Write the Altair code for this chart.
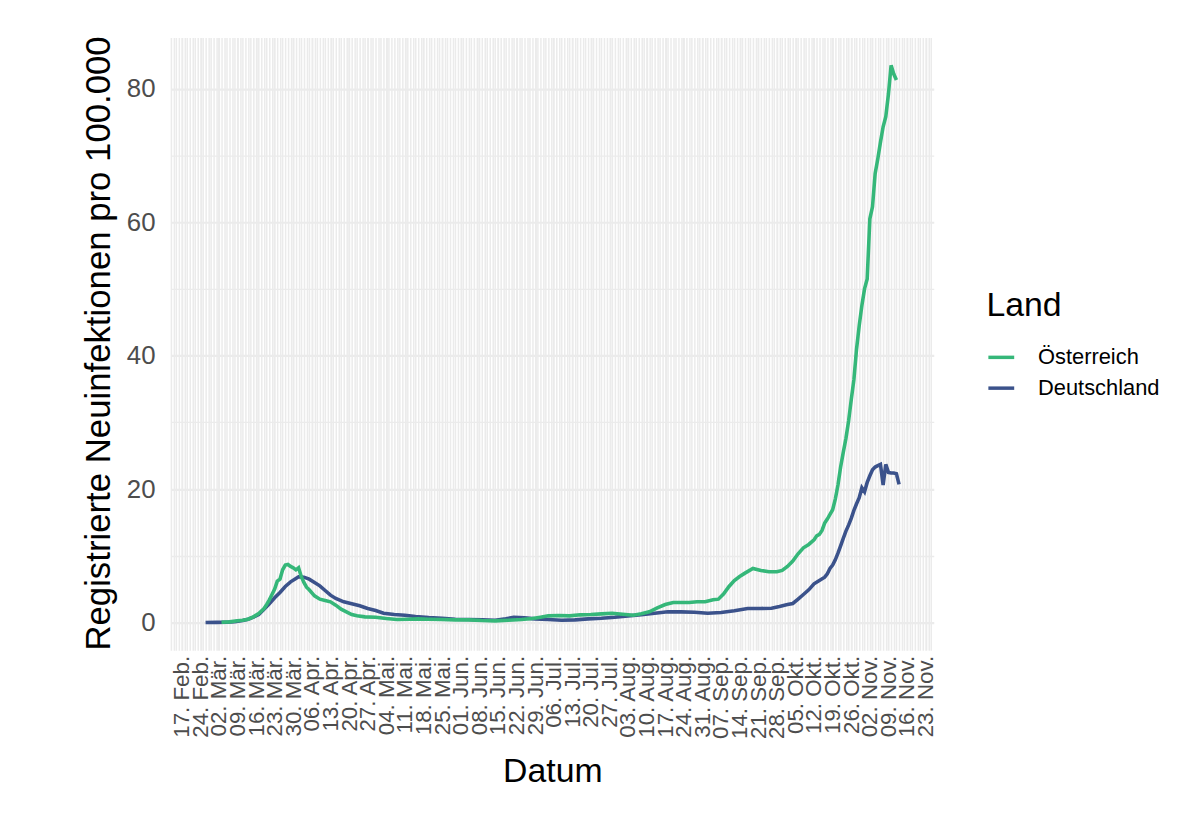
import json
import altair as alt
import pandas as pd

# ---------------- data ----------------
de_dates = ["2020-02-26","2020-03-01","2020-03-05","2020-03-08","2020-03-11","2020-03-13","2020-03-15","2020-03-17",
            "2020-03-19","2020-03-21","2020-03-23","2020-03-25","2020-03-27","2020-03-29","2020-03-31","2020-04-01",
            "2020-04-03","2020-04-05","2020-04-07","2020-04-09","2020-04-11","2020-04-13","2020-04-15","2020-04-18",
            "2020-04-21","2020-04-24","2020-04-27","2020-04-30","2020-05-03","2020-05-07","2020-05-11","2020-05-15",
            "2020-05-20","2020-05-25","2020-05-30","2020-06-04","2020-06-09","2020-06-14","2020-06-18","2020-06-21",
            "2020-06-25","2020-06-29","2020-07-04","2020-07-09","2020-07-14","2020-07-19","2020-07-24","2020-07-29",
            "2020-08-03","2020-08-08","2020-08-13","2020-08-18","2020-08-23","2020-08-28","2020-09-02","2020-09-07",
            "2020-09-12","2020-09-17","2020-09-22","2020-09-26","2020-09-29","2020-10-02","2020-10-04","2020-10-06",
            "2020-10-08","2020-10-10","2020-10-12","2020-10-14","2020-10-16","2020-10-17","2020-10-18","2020-10-19",
            "2020-10-20","2020-10-21","2020-10-22","2020-10-23","2020-10-24","2020-10-25","2020-10-26","2020-10-27",
            "2020-10-28","2020-10-29","2020-10-30","2020-10-31","2020-11-01","2020-11-02","2020-11-03","2020-11-04",
            "2020-11-05","2020-11-06","2020-11-07","2020-11-08","2020-11-09","2020-11-10","2020-11-11","2020-11-12",
            "2020-11-13"]
de_values = [0.0, 0.02, 0.05, 0.12, 0.3, 0.5, 0.8, 1.2,
             2.0, 2.8, 3.7, 4.5, 5.4, 6.1, 6.6, 6.85,
             6.8, 6.5, 6.0, 5.5, 4.8, 4.1, 3.6, 3.1,
             2.8, 2.5, 2.1, 1.8, 1.4, 1.2, 1.1, 0.9,
             0.75, 0.65, 0.5, 0.45, 0.4, 0.35, 0.55, 0.8,
             0.7, 0.55, 0.45, 0.35, 0.4, 0.55, 0.65, 0.8,
             1.0, 1.15, 1.4, 1.6, 1.6, 1.55, 1.4, 1.5,
             1.75, 2.1, 2.1, 2.15, 2.4, 2.7, 2.85, 3.5,
             4.2, 4.9, 5.8, 6.3, 6.8, 7.3, 8.1, 8.6,
             9.4, 10.4, 11.5, 12.6, 13.7, 14.6, 15.6, 16.8,
             17.8, 18.7, 20.2, 19.6, 21.0, 22.0, 22.9, 23.3,
             23.5, 23.7, 20.6, 23.7, 22.5, 22.4, 22.4, 22.3,
             20.7]

at_dates = ["2020-03-03","2020-03-06","2020-03-09","2020-03-11","2020-03-13","2020-03-15","2020-03-17","2020-03-19",
            "2020-03-20","2020-03-21","2020-03-22","2020-03-23","2020-03-24","2020-03-25","2020-03-26","2020-03-27",
            "2020-03-28","2020-03-29","2020-03-30","2020-03-31","2020-04-01","2020-04-02","2020-04-03","2020-04-04",
            "2020-04-05","2020-04-07","2020-04-09","2020-04-11","2020-04-13","2020-04-15","2020-04-17","2020-04-19",
            "2020-04-21","2020-04-23","2020-04-26","2020-04-30","2020-05-04","2020-05-08","2020-05-12","2020-05-16",
            "2020-05-20","2020-05-25","2020-05-30","2020-06-04","2020-06-09","2020-06-14","2020-06-19","2020-06-24",
            "2020-06-28","2020-07-01","2020-07-04","2020-07-08","2020-07-12","2020-07-16","2020-07-20","2020-07-24",
            "2020-07-28","2020-08-01","2020-08-05","2020-08-08","2020-08-11","2020-08-14","2020-08-17","2020-08-20",
            "2020-08-23","2020-08-26","2020-08-29","2020-09-01","2020-09-04","2020-09-06","2020-09-08","2020-09-10",
            "2020-09-12","2020-09-14","2020-09-16","2020-09-19","2020-09-22","2020-09-25","2020-09-28","2020-09-30",
            "2020-10-02","2020-10-04","2020-10-06","2020-10-08","2020-10-10","2020-10-12","2020-10-13","2020-10-14",
            "2020-10-15","2020-10-16","2020-10-17","2020-10-18","2020-10-19","2020-10-20","2020-10-21","2020-10-22",
            "2020-10-23","2020-10-24","2020-10-25","2020-10-26","2020-10-27","2020-10-28","2020-10-29","2020-10-30",
            "2020-10-31","2020-11-01","2020-11-02","2020-11-03","2020-11-04","2020-11-05","2020-11-06","2020-11-07",
            "2020-11-08","2020-11-09","2020-11-10","2020-11-11","2020-11-12"]
at_values = [0.05, 0.1, 0.25, 0.35, 0.5, 0.85, 1.35, 2.1,
             2.7, 3.4, 4.2, 5.0, 6.2, 6.5, 7.9, 8.6,
             8.7, 8.4, 8.2, 7.9, 8.2, 6.9, 6.0, 5.3,
             4.9, 4.0, 3.5, 3.3, 3.1, 2.6, 2.0, 1.6,
             1.2, 1.0, 0.85, 0.8, 0.6, 0.45, 0.5, 0.55,
             0.5, 0.45, 0.4, 0.4, 0.3, 0.25, 0.35, 0.45,
             0.6, 0.8, 1.0, 1.05, 1.0, 1.15, 1.2, 1.3,
             1.4, 1.25, 1.1, 1.3, 1.6, 2.2, 2.7, 3.0,
             3.0, 3.0, 3.1, 3.1, 3.4, 3.5, 4.3, 5.4,
             6.3, 6.9, 7.4, 8.1, 7.8, 7.6, 7.6, 7.8,
             8.4, 9.2, 10.3, 11.2, 11.7, 12.4, 13.0, 13.2,
             13.8, 14.9, 15.5, 16.2, 16.9, 18.5, 20.6, 23.3,
             25.5, 27.6, 30.2, 33.4, 36.4, 41.0, 44.5, 47.5,
             50.0, 51.5, 60.5, 62.3, 67.3, 69.5, 72.0, 74.3,
             75.8, 79.2, 83.5, 82.2, 81.3]

countries = ["Österreich", "Deutschland"]
colors = ["#35B779", "#3B528B"]
month_names = ["Jan", "Feb", "Mär", "Apr", "Mai", "Jun", "Jul", "Aug", "Sep", "Okt", "Nov", "Dez"]
y_breaks = [0, 10, 20, 30, 40, 50, 60, 70, 80]

# ---------------- build table ----------------
df = pd.concat([
    pd.DataFrame({"Datum": de_dates, "Wert": de_values, "Land": "Deutschland"}),
    pd.DataFrame({"Datum": at_dates, "Wert": at_values, "Land": "Österreich"}),
], ignore_index=True)


def ms(ts):
    return int(pd.Timestamp(ts).value // 10**6)


first = pd.Timestamp(min(de_dates + at_dates))
last = pd.Timestamp(max(de_dates + at_dates))
span = (last - first)
x_domain = [ms(first - span * 0.05), ms(last + span * 0.05)]
grid_days = [ms(d) for d in pd.date_range(first - span * 0.05, last + span * 0.05, freq="D").normalize()
             if x_domain[0] <= ms(d) <= x_domain[1]]

ymax = max(de_values + at_values)
y_domain = [-0.05 * ymax, ymax * 1.05]

W, H = 768, 617
FONT = "Liberation Sans"

label_expr = ("utcday(datum.value) === 1 ? utcFormat(datum.value, '%d') + '. ' + "
              + json.dumps(month_names, ensure_ascii=False) + "[utcmonth(datum.value)] + '.' : ''")

x_enc = alt.X(
    "Datum:T",
    scale=alt.Scale(type="utc", domain=x_domain, nice=False),
    axis=alt.Axis(
        values=grid_days, labelExpr=label_expr, labelAngle=270, labelFontSize=22.5,
        labelColor="#4D4D4D", labelPadding=5, labelOverlap=False, labelFlush=False, labelBound=False,
        ticks=False, domain=False, grid=True, gridColor="#EBEBEB",
        gridWidth={"condition": {"test": "utcday(datum.value) === 1", "value": 2}, "value": 1.5},
        title="Datum", titleFontSize=34, titleFontWeight="normal", titleColor="black",
        titleX=W / 2, titleY=132, titleBaseline="alphabetic", titleFont=FONT, labelFont=FONT,
    ),
)
y_enc = alt.Y(
    "Wert:Q",
    scale=alt.Scale(domain=y_domain, nice=False, zero=False),
    axis=alt.Axis(
        values=y_breaks, labelExpr="datum.value % 20 === 0 ? datum.label : ''",
        labelFontSize=26, labelColor="#4D4D4D", labelPadding=16,
        ticks=False, domain=False, grid=True, gridColor="#EBEBEB",
        gridWidth={"condition": {"test": "datum.value % 20 === 0", "value": 2.2}, "value": 1.3},
        title="Registrierte Neuinfektionen pro 100.000", titleFontSize=35, titleFontWeight="normal",
        titleColor="black", titleAngle=270, titleX=-62, titleY=H / 2 - 1, titleBaseline="alphabetic",
        titleFont=FONT, labelFont=FONT,
    ),
)
color_enc = alt.Color(
    "Land:N",
    scale=alt.Scale(domain=countries, range=colors),
    legend=alt.Legend(
        orient="none", legendX=821, legendY=253, title="Land", titleFontSize=34,
        titleFontWeight="normal", titleColor="black", titleFont=FONT, titlePadding=20,
        labelFontSize=22, labelColor="black", labelFont=FONT, labelOffset=22,
        symbolType="stroke", symbolStrokeWidth=3.5, symbolSize=676, rowPadding=5, padding=0,
    ),
)

base = alt.Chart(df).mark_line(strokeWidth=3.6, clip=True).encode(x=x_enc, y=y_enc, color=color_enc)
layer_de = base.transform_filter(alt.datum.Land == "Deutschland")
layer_at = base.transform_filter(alt.datum.Land == "Österreich")

chart = alt.layer(layer_de, layer_at).properties(
    width=W, height=H,
    autosize=alt.AutoSizeParams(type="none"),
    padding={"left": 164, "top": 27, "right": 260, "bottom": 160},
    background="white",
).configure_view(stroke=None)

chart.save("out.html", embed_options={"renderer": "svg", "actions": False})
